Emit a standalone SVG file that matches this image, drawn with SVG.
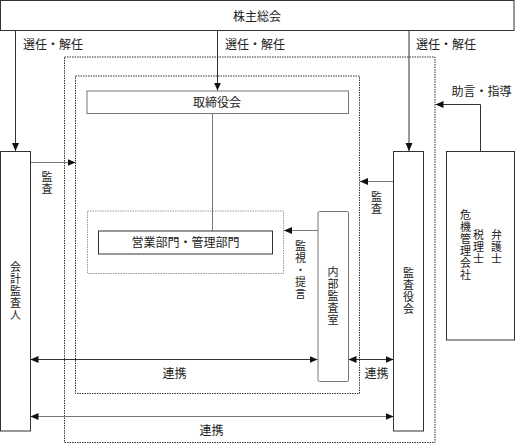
<svg xmlns="http://www.w3.org/2000/svg" width="515" height="444" viewBox="0 0 515 444">
<style>
text{font-family:"Noto Sans CJK JP","Noto Sans CJK SC",sans-serif;font-size:12px;fill:#222}
.c{text-anchor:middle}
.v{writing-mode:vertical-rl;text-anchor:start;font-size:11px;letter-spacing:1px}
.box{fill:#fff;stroke:#333;stroke-width:1}
.gbox{fill:#fff;stroke:#777;stroke-width:1}
.dot{fill:none;stroke:#333;stroke-width:1;stroke-dasharray:1.5 1}
.ldot{fill:none;stroke:#999;stroke-width:1;stroke-dasharray:1.5 1}
.ln{fill:none;stroke:#333;stroke-width:1}
.gl{fill:none;stroke:#777;stroke-width:1}
</style>
<defs>
<marker id="ah" viewBox="0 0 8 8" refX="8" refY="4" markerWidth="8" markerHeight="8" markerUnits="userSpaceOnUse" orient="auto-start-reverse">
<path d="M0,0.5 L8,4 L0,7.5 Z" fill="#111"/>
</marker>
</defs>
<rect width="515" height="444" fill="#fff"/>
<g id="frames">
<rect class="dot" x="64.5" y="57" width="370.5" height="385.5"/>
<rect class="dot" x="75.5" y="76" width="284" height="317.5"/>
<rect class="ldot" x="87.5" y="211" width="196" height="62.5"/>
</g>
<g id="connectors">
<line class="ln" x1="15.5" y1="30" x2="15.5" y2="151" marker-end="url(#ah)"/>
<line class="ln" x1="217.5" y1="30" x2="217.5" y2="90.5" marker-end="url(#ah)"/>
<line class="ln" x1="409" y1="30" x2="409" y2="151" marker-end="url(#ah)"/>
<line class="gl" x1="30.5" y1="162.5" x2="75.5" y2="162.5" marker-end="url(#ah)"/>
<line class="gl" x1="393.5" y1="181.5" x2="360" y2="181.5" marker-end="url(#ah)"/>
<line class="gl" x1="212.5" y1="113.5" x2="212.5" y2="231"/>
<line class="gl" x1="318" y1="230.5" x2="284" y2="230.5" marker-end="url(#ah)"/>
<line class="ln" x1="30.5" y1="359.5" x2="317.5" y2="359.5" marker-start="url(#ah)" marker-end="url(#ah)"/>
<line class="ln" x1="348.5" y1="359.5" x2="393.5" y2="359.5" marker-start="url(#ah)" marker-end="url(#ah)"/>
<line class="gl" x1="30.5" y1="416.5" x2="393.5" y2="416.5" marker-start="url(#ah)" marker-end="url(#ah)"/>
<path class="ln" d="M480.5,151.5 V104.5 H435.5" marker-end="url(#ah)"/>
</g>
<g id="labels">
<text x="23" y="48.5">選任・解任</text>
<text x="225" y="48.5">選任・解任</text>
<text x="416" y="48.5">選任・解任</text>
<text class="v" x="47" y="171.5">監査</text>
<text class="v" x="376.5" y="191.5">監査</text>
<text class="v" x="300.5" y="240">監視・提言</text>
<text class="c" x="174.5" y="377.5">連携</text>
<text class="c" x="376.5" y="377.5">連携</text>
<text class="c" x="211.5" y="434.5">連携</text>
<text x="451.5" y="95.5">助言・指導</text>
</g>
<g id="shareholders">
<rect class="box" x="0.5" y="0.5" width="513.5" height="30"/>
<text class="c" x="257" y="20.5">株主総会</text>
</g>
<g id="board">
<rect class="gbox" x="87" y="91" width="261.5" height="22.5"/>
<text class="c" x="217" y="107">取締役会</text>
</g>
<g id="departments">
<rect class="box" x="98.5" y="231" width="174" height="23"/>
<text class="c" x="185.5" y="247">営業部門・管理部門</text>
</g>
<g id="accounting-auditor">
<rect class="box" x="0.5" y="151.5" width="30" height="279.5"/>
<text class="v" x="15.5" y="261.5">会計監査人</text>
</g>
<g id="internal-audit">
<rect class="gbox" x="318" y="211.5" width="30.5" height="170" rx="1.5"/>
<text class="v" x="333" y="266.5">内部監査室</text>
</g>
<g id="audit-board">
<rect class="box" x="393.5" y="151.5" width="30" height="279.5"/>
<text class="v" x="408.5" y="267.5">監査役会</text>
</g>
<g id="advisors">
<rect class="box" x="446.5" y="151.5" width="68" height="188.5"/>
<text class="v" x="496.5" y="229.5">弁護士</text>
<text class="v" x="478.5" y="229.5">税理士</text>
<text class="v" x="465.5" y="209.5">危機管理会社</text>
</g>
</svg>
